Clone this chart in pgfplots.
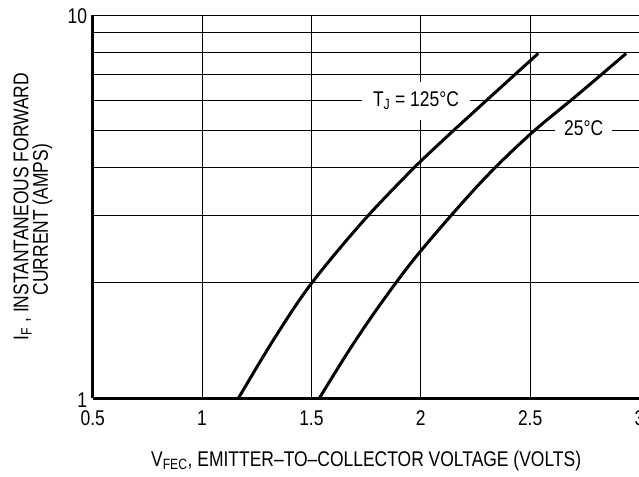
\documentclass[border=0pt]{standalone}
\usepackage{fontspec}
\setmainfont[FakeStretch=0.82]{Liberation Sans}
\usepackage{pgfplots}
\pgfplotsset{compat=1.18}
\newcommand{\lbl}{\fontsize{21.3bp}{18.3bp}\selectfont}
\begin{document}
\begin{tikzpicture}
\begin{axis}[
  at={(92.7bp,78.7bp)}, anchor=south west,
  scale only axis, width=546.8bp, height=383.3bp,
  xmin=0.5, xmax=3, ymin=1, ymax=10, ymode=log,
  xtick={0.5,1,1.5,2,2.5,3}, xticklabels={0.5,1,1.5,2,2.5,3},
  ytick={1,10}, yticklabels={1,10}, minor ytick={2,3,4,5,6,7,8,9},
  xmajorgrids=true, ymajorgrids=true, yminorgrids=true,
  major grid style={black, line width=0.9bp},
  minor grid style={black, line width=0.9bp},
  axis x line*=bottom, axis y line*=left,
  axis line style={line width=2.4bp, -},
  major tick length=0pt, minor tick length=0pt,
  tick label style={font=\lbl},
  /pgf/number format/assume math mode=true,
  xticklabel style={anchor=base, yshift=-27.4bp, inner sep=0pt},
  yticklabel style={anchor=east, xshift=-5.5bp, yshift=-1.5bp, inner sep=0pt},
  xlabel={V\textsubscript{FEC}, EMITTER\textendash TO\textendash COLLECTOR VOLTAGE (VOLTS)},
  xlabel style={at={(rel axis cs:0.5,0)}, anchor=base, yshift=-68bp, inner sep=0pt, font=\lbl},
  ylabel={I\textsubscript{F} , INSTANTANEOUS FORWARD\\CURRENT (AMPS)\hspace*{26bp}},
  ylabel style={at={(rel axis cs:0,0.5)}, anchor=north, yshift=79.4bp, inner sep=0pt, align=center, font=\lbl},
]
\node[fill=white, inner xsep=11bp, inner ysep=10bp, font=\lbl] at (axis cs:1.978,5.965) {T\textsubscript{J} = 125°C};
\node[fill=white, inner xsep=9bp, inner ysep=3bp, font=\lbl] at (axis cs:2.745,5.064) {25°C};
\addplot[black, line width=3bp, smooth, tension=0.55] coordinates {
(1.166,1) (1.329,1.428) (1.497,1.984) (1.730,2.871) (1.951,3.90) (2.103,4.72) (2.271,5.78) (2.537,7.94)
};
\addplot[black, line width=3bp, smooth, tension=0.55] coordinates {
(1.536,1) (1.682,1.361) (1.829,1.805) (1.997,2.413) (2.271,3.64) (2.496,4.86) (2.721,6.22) (2.939,7.94)
};
\end{axis}
\pgfresetboundingbox
\useasboundingbox (0,0) rectangle (639bp,477bp);
\end{tikzpicture}
\end{document}
